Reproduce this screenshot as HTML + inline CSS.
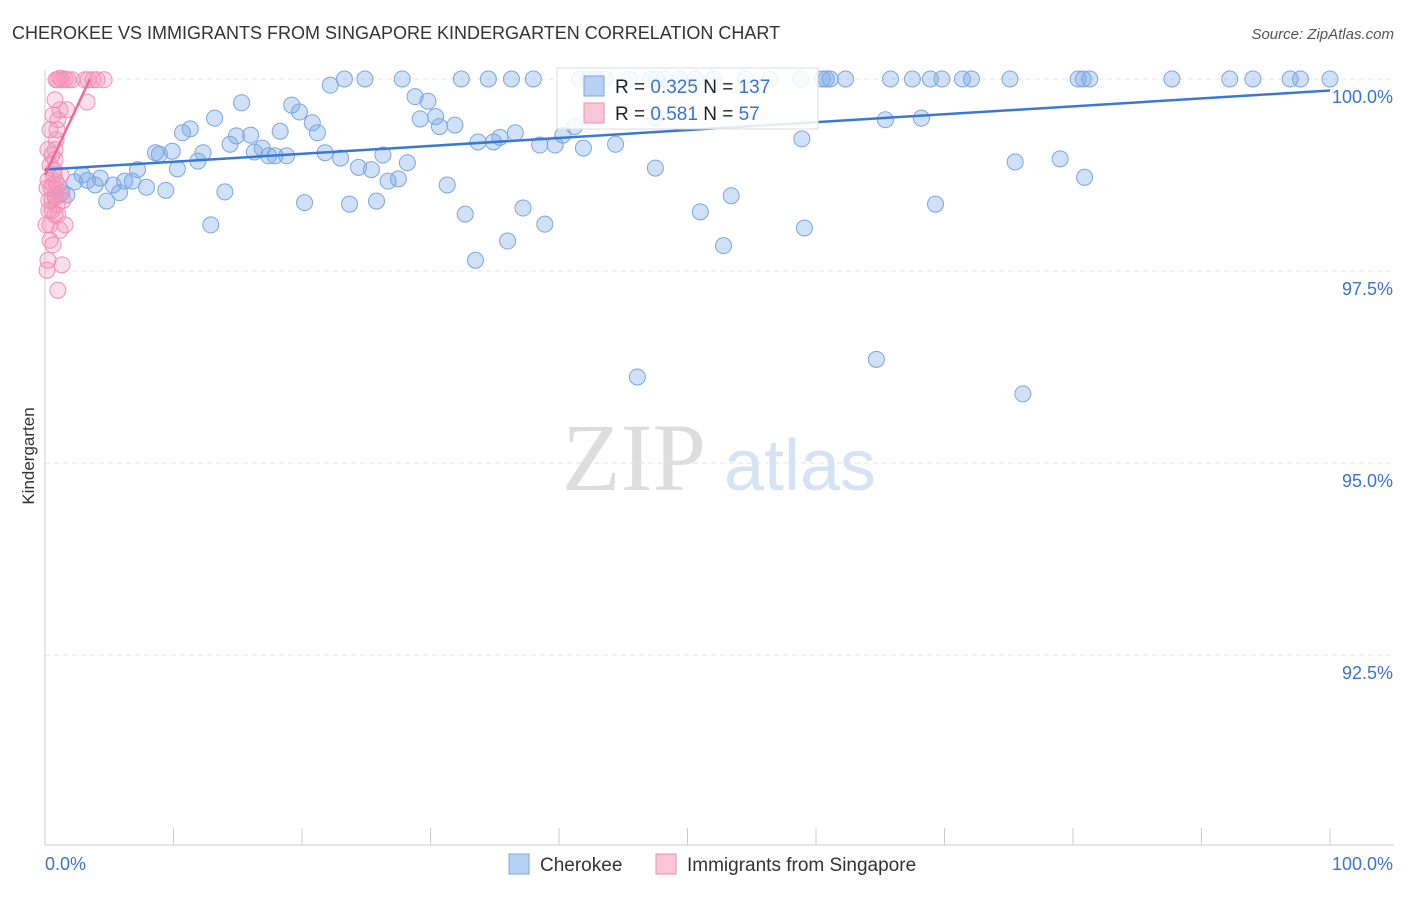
<!DOCTYPE html>
<html><head><meta charset="utf-8"><style>
body{margin:0;background:#fff;font-family:"Liberation Sans",sans-serif}
#wrap{position:relative;width:1406px;height:892px}
</style></head><body>
<div id="wrap">
<svg id="svg" width="1406" height="892" xmlns="http://www.w3.org/2000/svg">
<text x="12" y="39" font-size="18" fill="#333">CHEROKEE VS IMMIGRANTS FROM SINGAPORE KINDERGARTEN CORRELATION CHART</text>
<text x="1394" y="39" font-size="15" fill="#555" text-anchor="end" font-style="italic">Source: ZipAtlas.com</text>
<text x="634" y="490" font-size="96" fill="#ddd" text-anchor="middle" font-family="Liberation Serif,serif">ZIP</text>
<text x="800" y="490" font-size="72" fill="#d5e3f5" text-anchor="middle">atlas</text>
<text x="34" y="456" font-size="17" fill="#333" text-anchor="middle" transform="rotate(-90 34 456)">Kindergarten</text>
<g id="grid"></g><g id="pts"></g><g id="lines"></g>
<g>
<rect x="557" y="68" width="261" height="61" fill="#fff" fill-opacity="0.85" stroke="#ddd"/>
<rect x="584" y="76" width="20" height="20" fill="#b7d0f3" stroke="#7aa7e0"/>
<text x="615" y="93" font-size="19" fill="#222">R = <tspan fill="#3a73d0">0.325</tspan>   N = <tspan fill="#3a73d0">137</tspan></text>
<rect x="584" y="103" width="20" height="20" fill="#f8c6d6" stroke="#f08cb0"/>
<text x="615" y="120" font-size="19" fill="#222">R = <tspan fill="#3a73d0">0.581</tspan>   N =  <tspan fill="#3a73d0">57</tspan></text>
</g>
<g>
<rect x="509" y="854" width="20" height="20" fill="#b7d0f3" stroke="#7aa7e0"/>
<text x="540" y="871" font-size="19" fill="#333">Cherokee</text>
<rect x="656" y="854" width="20" height="20" fill="#f8c6d6" stroke="#f08cb0"/>
<text x="687" y="871" font-size="19" fill="#333">Immigrants from Singapore</text>
</g>
</svg></div>
<script>
const yTicks=[100,97.5,95,92.5];
const yTickLabels=["100.0%","97.5%","95.0%","92.5%"];
const xTicks=[0,10,20,30,40,50,60,70,80,90,100];
const blueX=[0.8,1.3,1.7,2.3,2.9,3.3,3.9,4.3,4.8,5.3,5.8,6.2,6.8,7.2,7.9,8.6,8.9,9.4,9.9,10.3,10.7,11.3,11.9,12.3,12.9,13.2,14.0,14.4,14.9,15.3,16.0,16.3,16.9,17.4,17.9,18.3,18.8,19.2,19.8,20.2,20.8,21.2,21.8,22.2,23.0,23.3,23.7,24.4,24.9,25.4,25.8,26.3,26.7,27.5,27.8,28.2,28.8,29.2,29.8,30.4,30.7,31.3,31.9,32.4,32.7,33.5,33.7,34.5,34.9,35.4,36.0,36.3,36.6,37.2,38.0,38.5,38.9,39.7,40.3,41.2,41.9,42.8,43.6,44.4,45.5,46.1,47.5,48.2,49.4,51.0,52.0,52.8,53.4,54.5,56.4,58.8,58.9,59.1,60.5,60.8,61.1,62.3,64.7,65.4,65.8,67.5,68.2,68.9,69.3,69.8,71.4,72.1,75.1,75.5,76.1,79.0,80.4,80.8,80.9,81.3,87.7,92.2,94.0,96.9,97.7,100,41.6,42.3,47.1,47.6,50.6,47.5];
const blueY=[98.46,98.52,98.49,98.66,98.75,98.68,98.62,98.71,98.41,98.62,98.52,98.67,98.67,98.82,98.59,99.04,99.02,98.55,99.06,98.83,99.30,99.35,98.93,99.04,98.10,99.49,98.53,99.15,99.26,99.69,99.27,99.05,99.10,99.00,99.00,99.32,99.00,99.66,99.57,98.39,99.43,99.30,99.04,99.92,98.97,100,98.37,98.85,100,98.82,98.41,99.01,98.67,98.70,100,98.91,99.77,99.48,99.71,99.51,99.38,98.62,99.40,100,98.24,97.64,99.18,100,99.18,99.24,97.89,100,99.30,98.32,100,99.14,98.11,99.14,99.27,99.38,99.10,100,100,99.15,100,96.12,98.84,100,100,98.27,100,97.83,98.48,100,100,100,99.22,98.06,100,100,100,100,96.35,99.47,100,100,99.49,100,98.37,100,100,100,100,98.92,95.90,98.96,100,100,98.72,100,100,100,100,100,100,100,100,100,100,100,100,99.49];
const pinkX=[0.16,0.23,0.39,0.39,0.54,0.54,0.62,0.7,0.78,0.78,0.86,0.93,1.0,1.17,0.78,0.93,1.0,1.17,1.32,1.0,1.56,0.78,0.86,1.0,1.17,1.32,1.56,1.79,2.1,3.1,3.35,3.74,4.05,4.6,3.27,1.71,0.62,0.23,0.39,0.54,0.16,0.3,0.47,0.7,0.86,1.17,0.39,0.62,1.25,0.08,0.3,0.78,1.0,1.4,0.23];
const pinkY=[97.51,97.64,97.9,98.1,98.29,98.42,98.62,98.75,98.95,99.08,99.21,99.34,99.47,99.6,98.49,98.36,98.23,98.03,97.58,97.25,98.1,99.73,99.99,99.99,100.01,99.99,100,99.99,99.99,99.99,99.99,99.99,99.99,99.99,99.7,99.6,97.84,98.68,98.88,99.01,98.58,98.29,98.58,98.82,98.66,98.49,99.34,99.53,98.75,98.1,98.42,98.23,98.62,98.42,99.08];
const blueTrend=[[0,98.82],[100,99.85]];
const pinkTrend=[[0,98.75],[3.5,100]];
const NS="http://www.w3.org/2000/svg";
const X0=45,X1=1330,Y100=79,PPU=76.8;
const sx=v=>X0+(X1-X0)*v/100;
const sy=v=>Y100+(100-v)*PPU;
function mk(tag,attrs,parent){const e=document.createElementNS(NS,tag);for(const k in attrs)e.setAttribute(k,attrs[k]);parent.appendChild(e);return e;}
const grid=document.getElementById('grid');
yTicks.forEach((t,i)=>{
 const l=mk('line',{x1:45,x2:1394,y1:sy(t),y2:sy(t),stroke:'#e3e3e3','stroke-dasharray':'5,4'},grid);
 
 
 const tx=mk('text',{x:1393,y:sy(t)+24,'font-size':18,fill:'#3a73d0','text-anchor':'end'},grid);
 tx.textContent=yTickLabels[i];
 
 
});
const ax=mk('line',{x1:45,x2:1394,y1:845,y2:845,stroke:'#ccc'},grid);


const ay=mk('line',{x1:45,x2:45,y1:70,y2:845,stroke:'#ccc'},grid);


xTicks.forEach(t=>{
 const l=mk('line',{x1:sx(t),x2:sx(t),y1:828,y2:845,stroke:'#ccc'},grid);
 
 
});
const xl=mk('text',{x:45,y:870,'font-size':18,fill:'#3a73d0'},grid);xl.textContent='0.0%';


const xr=mk('text',{x:1393,y:870,'font-size':18,fill:'#3a73d0','text-anchor':'end'},grid);xr.textContent='100.0%';


const pts=document.getElementById('pts');
blueX.forEach((v,i)=>{
 const c=mk('circle',{cx:sx(v),cy:sy(blueY[i]),r:8,fill:'rgba(120,165,230,0.35)',stroke:'#7aa7e0','stroke-width':1},pts);
 
 
});
pinkX.forEach((v,i)=>{
 const c=mk('circle',{cx:sx(v),cy:sy(pinkY[i]),r:8,fill:'rgba(245,150,185,0.3)',stroke:'#f090b2','stroke-width':1},pts);
 
 
});
const lines=document.getElementById('lines');
const bl=mk('line',{x1:sx(blueTrend[0][0]),y1:sy(blueTrend[0][1]),x2:sx(blueTrend[1][0]),y2:sy(blueTrend[1][1]),stroke:'#3a78d6','stroke-width':2.5},lines);


const pl=mk('line',{x1:sx(pinkTrend[0][0]),y1:sy(pinkTrend[0][1]),x2:sx(pinkTrend[1][0]),y2:sy(pinkTrend[1][1]),stroke:'#ee6a97','stroke-width':2.5},lines);


</script>
</body></html>
